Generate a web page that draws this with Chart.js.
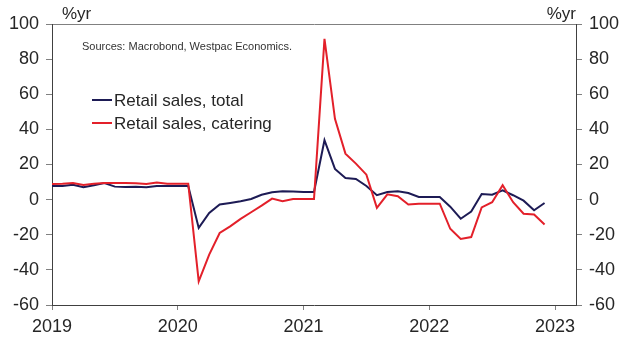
<!DOCTYPE html>
<html>
<head>
<meta charset="utf-8">
<script src="https://cdn.jsdelivr.net/npm/chart.js@4/dist/chart.umd.min.js"></script>
<style>
  html, body { margin: 0; padding: 0; background: #fff; }
  #wrap { position: relative; width: 622px; height: 340px; }
  canvas { display: block; }
</style>
</head>
<body>
<div id="wrap"><canvas id="c" width="622" height="340"></canvas></div>
<script>
// Monthly observations, Jan 2019 – Dec 2022
const months = [
  '2019-01','2019-02','2019-03','2019-04','2019-05','2019-06','2019-07','2019-08','2019-09','2019-10','2019-11','2019-12',
  '2020-01','2020-02','2020-03','2020-04','2020-05','2020-06','2020-07','2020-08','2020-09','2020-10','2020-11','2020-12',
  '2021-01','2021-02','2021-03','2021-04','2021-05','2021-06','2021-07','2021-08','2021-09','2021-10','2021-11','2021-12',
  '2022-01','2022-02','2022-03','2022-04','2022-05','2022-06','2022-07','2022-08','2022-09','2022-10','2022-11','2022-12'
];

// Retail sales, total (%yr)
const retailTotal = [
  7.8, 7.8, 8.4, 7.0, 8.2, 9.5, 7.4, 7.2, 7.4, 7.0, 7.8, 7.8,
  7.8, 7.8, -16.1, -7.6, -2.8, -1.9, -0.9, 0.4, 2.8, 4.2, 4.7, 4.6,
  4.4, 4.4, 33.8, 17.5, 12.3, 11.8, 7.8, 2.5, 4.3, 4.8, 3.8, 1.5,
  1.5, 1.5, -4.0, -10.9, -6.8, 3.2, 2.8, 5.3, 2.5, -0.6, -6.1, -1.9
];

// Retail sales, catering (%yr)
const retailCatering = [
  8.9, 9.1, 9.5, 8.4, 9.1, 9.5, 9.5, 9.5, 9.3, 8.9, 9.7, 9.1,
  9.1, 9.1, -46.5, -31.3, -19.0, -15.2, -11.0, -7.2, -3.4, 0.6, -0.9, 0.3,
  0.3, 0.3, 91.5, 46.0, 26.2, 20.5, 14.2, -4.7, 3.0, 1.9, -2.8, -2.3,
  -2.3, -2.3, -16.6, -22.4, -21.3, -4.4, -1.5, 8.2, -1.5, -8.0, -8.5, -14.2
];

const yearTicks = [2019, 2020, 2021, 2022, 2023];
const yTicks = [-60, -40, -20, 0, 20, 40, 60, 80, 100];
const seriesNames = ['Retail sales, total', 'Retail sales, catering'];
const sourceNote = 'Sources: Macrobond, Westpac Economics.';
const unitLabel = '%yr';

const firstYear = Number(months[0].slice(0, 4));
const monthIndex = m => (Number(m.slice(0, 4)) - firstYear) * 12 + Number(m.slice(5, 7)) - 1;
const toPoints = vals => months.map((m, i) => ({ x: monthIndex(m), y: vals[i] }));

const FONT = '"Liberation Sans", Arial, sans-serif';
const TEXT = '#262626';
const AXIS = '#404040';
const TICK = '#808080';

// Free-floating legend and source note inside the plot
const annotations = {
  id: 'annotations',
  afterDraw(chart) {
    const ctx = chart.ctx;
    const area = chart.chartArea;
    ctx.save();
    ctx.fillStyle = TEXT;
    ctx.textBaseline = 'alphabetic';
    ctx.font = '17px ' + FONT;
    ctx.textAlign = 'left';
    ctx.fillText(unitLabel, area.left + 10, 19);
    ctx.textAlign = 'right';
    ctx.fillText(unitLabel, area.right, 19);

    ctx.textAlign = 'left';
    ctx.textBaseline = 'middle';
    ctx.font = '11px ' + FONT;
    ctx.fillStyle = '#333';
    ctx.fillText(sourceNote, 82, 47);

    ctx.font = '17px ' + FONT;
    const rows = [100, 123];
    chart.data.datasets.forEach((ds, i) => {
      const y = rows[i];
      ctx.strokeStyle = ds.borderColor;
      ctx.lineWidth = 2;
      ctx.beginPath();
      ctx.moveTo(92, y);
      ctx.lineTo(112, y);
      ctx.stroke();
      ctx.fillStyle = TEXT;
      ctx.fillText(ds.label, 114, y + 1);
    });
    ctx.restore();
  }
};

const yAxisCommon = {
  type: 'linear',
  min: -60,
  max: 100,
  afterBuildTicks: s => { s.ticks = yTicks.map(v => ({ value: v })); },
  ticks: { font: { family: FONT, size: 18 }, color: TEXT, padding: 7 },
  border: { display: true, color: AXIS, width: 1 }
};

new Chart(document.getElementById('c'), {
  type: 'line',
  data: {
    datasets: [
      {
        label: seriesNames[0],
        data: toPoints(retailTotal),
        borderColor: '#1d1b55',
        borderWidth: 2,
        order: 1
      },
      {
        label: seriesNames[1],
        data: toPoints(retailCatering),
        borderColor: '#e3202a',
        borderWidth: 2,
        order: 0
      }
    ]
  },
  options: {
    responsive: false,
    animation: false,
    devicePixelRatio: 1,
    layout: { padding: { top: 24, left: 0, right: 0, bottom: 0 } },
    elements: { point: { radius: 0 }, line: { tension: 0 } },
    plugins: { legend: { display: false }, tooltip: { enabled: false } },
    scales: {
      x: {
        type: 'linear',
        min: 0,
        max: 50,
        afterBuildTicks: s => { s.ticks = yearTicks.map(y => ({ value: (y - firstYear) * 12 })); },
        afterFit: s => { s.height = 35; },
        ticks: {
          font: { family: FONT, size: 18 },
          color: TEXT,
          padding: 6,
          maxRotation: 0,
          callback: v => String(firstYear + v / 12)
        },
        grid: { drawOnChartArea: false, drawTicks: true, tickLength: 5, tickColor: TICK },
        border: { display: true, color: AXIS, width: 1 }
      },
      y: Object.assign({}, yAxisCommon, {
        position: 'left',
        afterFit: s => { s.width = 52; },
        grid: {
          drawOnChartArea: true,
          color: c => (c.tick && c.tick.value === 100 ? TICK : 'rgba(0,0,0,0)'),
          tickColor: TICK,
          tickLength: 6
        }
      }),
      y2: Object.assign({}, yAxisCommon, {
        position: 'right',
        afterFit: s => { s.width = 46; },
        grid: { drawOnChartArea: false, tickColor: TICK, tickLength: 6 }
      })
    }
  },
  plugins: [annotations]
});
</script>
</body>
</html>
